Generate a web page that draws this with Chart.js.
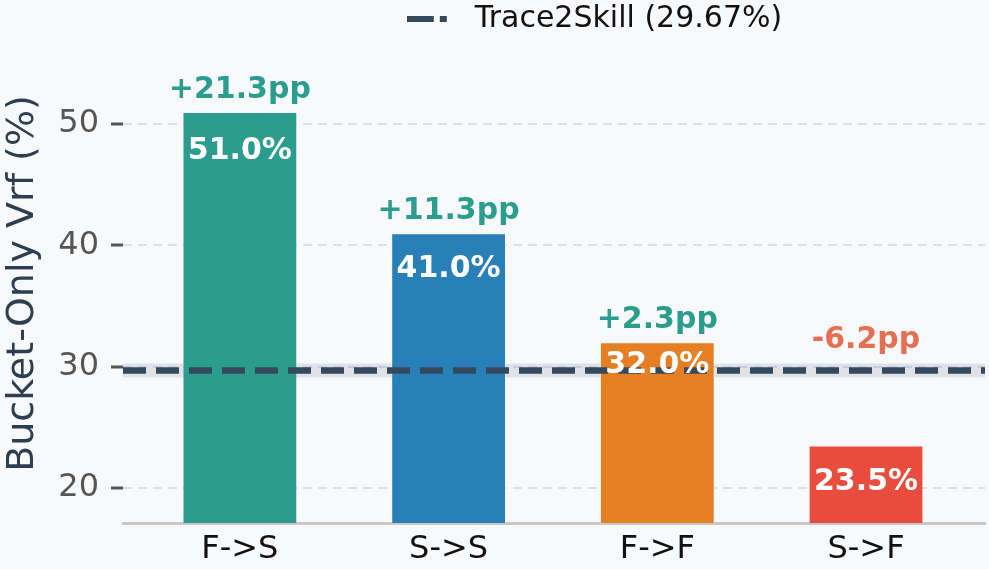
<!DOCTYPE html>
<html>
<head>
<meta charset="utf-8">
<script src="https://cdn.jsdelivr.net/npm/chart.js@4/dist/chart.umd.min.js"></script>
<style>
  html, body { margin: 0; padding: 0; background: #f8f9fb; }
  #wrap { width: 989px; height: 569px; }
</style>
</head>
<body>
<div id="wrap"><canvas id="chart" width="989" height="569"></canvas></div>
<script>
// 데이터
const buckets = ['F->S', 'S->S', 'F->F', 'S->F'];
const bucketVrf = [51.0, 41.0, 32.0, 23.5];
const baselineName = 'Trace2Skill';
const baselineVrf = 29.67;
const yTicks = [20, 30, 40, 50];

const barColors = ['#2a9d8f', '#2980b9', '#e67e22', '#e74c3c'];
const FONT = "'DejaVu Sans', sans-serif";
const X_MIN = -0.56, X_MAX = 3.57;

// 범례용 점선 아이콘
function dashIcon() {
    const c = document.createElement('canvas');
    c.width = 53; c.height = 6;
    const g = c.getContext('2d');
    g.fillStyle = '#34495e';
    g.fillRect(0, 0, 27, 6);
    g.fillRect(33, 0, 7, 6);
    return c;
}

// 배경
const bgPlugin = {
    id: 'bg',
    beforeDraw(chart) {
        const ctx = chart.ctx;
        ctx.save();
        ctx.fillStyle = '#f8f9fb';
        ctx.fillRect(0, 0, chart.width, chart.height);
        ctx.restore();
    }
};

// 범례 위치 이동
const legendShift = {
    id: 'legendShift',
    afterLayout(chart) {
        chart.legend.left += 102;
        chart.legend.right += 102;
    }
};

// 막대 라벨
const insideDrop = [3.2, 3.0, 1.9, 3.0];
const barLabels = {
    id: 'barLabels',
    afterDatasetsDraw(chart) {
        const ctx = chart.ctx;
        const xs = chart.scales.x, ys = chart.scales.y;
        ctx.save();
        ctx.textAlign = 'center';
        ctx.textBaseline = 'middle';
        bucketVrf.forEach((v, i) => {
            const x = xs.getPixelForValue(i);
            const d = v - baselineVrf;
            const txt = (d >= 0 ? '+' : '-') + Math.abs(d).toFixed(1) + 'pp';
            const yAbove = d >= 0 ? v + 1.8 : baselineVrf + 2.5;
            ctx.font = 'bold 30px ' + FONT;
            ctx.fillStyle = d >= 0 ? '#2a9d8f' : '#e76f51';
            ctx.fillText(txt, x, ys.getPixelForValue(yAbove));
            ctx.fillStyle = '#ffffff';
            ctx.fillText(v.toFixed(1) + '%', x, ys.getPixelForValue(v - insideDrop[i]));
        });
        ctx.restore();
    }
};

const lineX = [X_MIN, X_MAX];

new Chart(document.getElementById('chart').getContext('2d'), {
    type: 'bar',
    data: {
        datasets: [
            {
                type: 'line',
                label: 'band',
                data: lineX.map(x => ({ x: x, y: baselineVrf })),
                borderColor: 'rgba(52,73,94,0.12)',
                borderWidth: 14,
                pointRadius: 0,
                order: 3
            },
            {
                label: 'bars',
                data: bucketVrf.map((v, i) => ({ x: i, y: v })),
                backgroundColor: barColors,
                borderColor: 'rgba(255,255,255,0.35)',
                borderWidth: 1,
                categoryPercentage: 1,
                barPercentage: 0.55,
                order: 2
            },
            {
                type: 'line',
                label: baselineName + ' (' + baselineVrf.toFixed(2) + '%)',
                data: lineX.map(x => ({ x: x, y: baselineVrf })),
                borderColor: '#34495e',
                borderWidth: 6.5,
                borderDash: [23, 10],
                borderCapStyle: 'butt',
                pointRadius: 0,
                order: 1
            }
        ]
    },
    options: {
        responsive: false,
        animation: false,
        layout: { padding: { left: 0, right: 4, top: 0, bottom: 0 } },
        plugins: {
            tooltip: { enabled: false },
            legend: {
                position: 'top',
                labels: {
                    usePointStyle: true,
                    pointStyleWidth: 53,
                    boxHeight: 6,
                    padding: 4,
                    color: '#111111',
                    font: { family: FONT, size: 30 },
                    generateLabels(chart) {
                        const ds = chart.data.datasets[2];
                        return [{
                            text: ds.label,
                            pointStyle: dashIcon(),
                            fontColor: '#111111',
                            datasetIndex: 2,
                            hidden: false,
                            lineWidth: 0
                        }];
                    }
                }
            }
        },
        scales: {
            x: {
                type: 'linear',
                offset: false,
                min: X_MIN,
                max: X_MAX,
                afterBuildTicks: s => { s.ticks = buckets.map((_, i) => ({ value: i })); },
                afterFit: s => { s.height = 46; },
                grid: { display: false, drawTicks: false, offset: false },
                border: { display: true, color: '#c8c8c8', width: 3 },
                ticks: {
                    padding: 7,
                    color: '#111111',
                    font: { family: FONT, size: 32 },
                    callback: v => buckets[v] || ''
                }
            },
            y: {
                min: 17.1,
                max: 56.6,
                afterBuildTicks: s => { s.ticks = yTicks.map(v => ({ value: v })); },
                afterFit: s => { s.width = 123; },
                grid: {
                    color: '#dddded',
                    lineWidth: 2,
                    tickColor: '#555555',
                    tickWidth: 3,
                    tickLength: 12
                },
                border: { display: false, dash: [9, 6] },
                ticks: {
                    padding: 12,
                    color: '#555555',
                    font: { family: FONT, size: 32 }
                },
                title: {
                    display: true,
                    text: 'Bucket-Only Vrf (%)',
                    color: '#2c3e50',
                    font: { family: FONT, size: 38 },
                    padding: { top: 0, bottom: 0 }
                }
            }
        }
    },
    plugins: [bgPlugin, legendShift, barLabels]
});
</script>
</body>
</html>
